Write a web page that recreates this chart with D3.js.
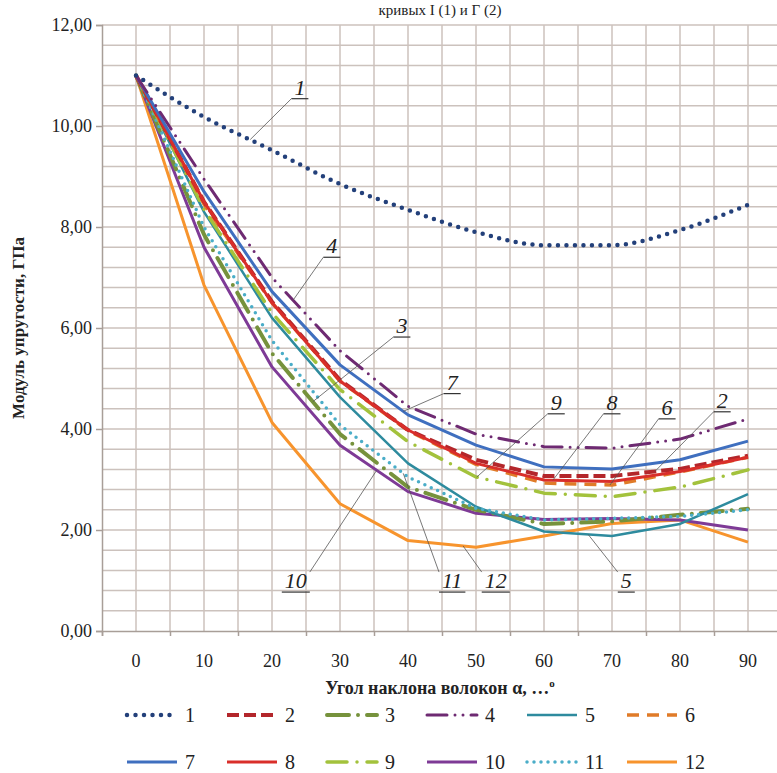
<!DOCTYPE html>
<html><head><meta charset="utf-8">
<script src="https://cdn.jsdelivr.net/npm/d3@7"></script>
<style>body{margin:0;background:#fff}svg{display:block}</style>
</head><body><svg id="c" width="777" height="773"></svg>
<script>
// ---- data ----
const angles = [0,10,20,30,40,50,60,70,80,90];
const yTicks = [0,2,4,6,8,10,12];
const seriesNames = ["1","2","3","4","5","6","7","8","9","10","11","12"];
const s1  = [11.0,10.18,9.52,8.85,8.34,7.90,7.64,7.64,7.94,8.44];
const s2  = [11.0,8.50,6.52,4.97,3.98,3.39,3.07,3.07,3.21,3.47];
const s3  = [11.0,7.85,5.50,3.90,2.85,2.40,2.12,2.17,2.30,2.42];
const s4  = [11.0,8.95,7.00,5.55,4.45,3.90,3.65,3.62,3.80,4.20];
const s5  = [11.0,8.30,6.20,4.63,3.32,2.46,1.97,1.88,2.12,2.71];
const s6  = [11.0,8.45,6.50,4.95,3.97,3.30,2.93,2.89,3.15,3.44];
const s7  = [11.0,8.70,6.72,5.27,4.28,3.68,3.25,3.21,3.39,3.76];
const s8  = [11.0,8.50,6.50,4.95,3.98,3.32,2.99,2.96,3.16,3.44];
const s9  = [11.0,8.35,6.30,4.78,3.75,3.05,2.73,2.66,2.85,3.19];
const s10 = [11.0,7.60,5.23,3.68,2.76,2.33,2.21,2.23,2.20,2.00];
const s11 = [11.0,8.00,5.75,4.08,3.05,2.43,2.20,2.23,2.27,2.40];
const s12 = [11.0,6.85,4.13,2.52,1.79,1.66,1.88,2.13,2.20,1.76];
const allSeries = [s1,s2,s3,s4,s5,s6,s7,s8,s9,s10,s11,s12];

// ---- styles ----
const styles = [
  {c:"#23407A", w:4.5, d:"0 8.5", cap:"round", smooth:true},
  {c:"#B3262B", w:4,   d:"12 5",  cap:"butt"},
  {c:"#76923C", w:4,   d:"22 9 0 9", cap:"round"},
  {c:"#6E2A72", w:3,   d:"20 8 0 8 0 8", cap:"round"},
  {c:"#2E8B9E", w:2.5, d:null, cap:"butt"},
  {c:"#E07B28", w:3.5, d:"12 8", cap:"butt"},
  {c:"#3F6FBF", w:3,   d:null, cap:"butt"},
  {c:"#D92E2A", w:3,   d:null, cap:"butt"},
  {c:"#A3C23C", w:3.5, d:"20 10 0 10", cap:"round"},
  {c:"#7E3A96", w:3,   d:null, cap:"butt"},
  {c:"#4AADC8", w:3.5, d:"0 7", cap:"round"},
  {c:"#F7942D", w:3,   d:null, cap:"butt"}
];
const serif = '"Liberation Serif", "Times New Roman", "DejaVu Serif", serif';

const svg = d3.select("#c");
svg.append("rect").attr("width",777).attr("height",773).attr("fill","#fff");

const x = d3.scaleLinear().domain([-5,95]).range([102,782]);
const y = d3.scaleLinear().domain([0,12]).range([631,25]);

// title (top, partly outside the picture in the reference)
svg.append("text").attr("x",440).attr("y",15).attr("text-anchor","middle")
  .style("font-family",serif).style("font-size","15px").attr("fill","#222").text("кривых I (1) и Г (2)");

// grid
const g = svg.append("g");
g.selectAll("line.h").data(d3.range(1,31).map(i=>i*0.4)).join("line")
  .attr("x1",x(-5)).attr("x2",x(95)).attr("y1",d=>y(d)).attr("y2",d=>y(d))
  .attr("stroke","#CCC2BD").attr("stroke-width",1.5);
g.selectAll("line.v").data(d3.range(0,20).map(i=>i*5)).join("line")
  .attr("x1",d=>x(d)).attr("x2",d=>x(d)).attr("y1",y(0)).attr("y2",y(12))
  .attr("stroke","#CCC2BD").attr("stroke-width",1.5);

// axes
const yAxis = d3.axisLeft(y).tickValues(yTicks).tickSize(6)
  .tickFormat(d=>d3.format(".2f")(d).replace(".",","));
const ya = svg.append("g").attr("transform",`translate(${x(-5)},0)`).call(yAxis);
ya.select(".domain").attr("stroke","#A89E98").attr("stroke-width",1.5);
ya.selectAll(".tick line").attr("stroke","#A89E98").attr("stroke-width",1.5);
ya.selectAll(".tick text").style("font-family",serif).style("font-size","18px").attr("fill","#222").attr("x",-10);

const xAxis = d3.axisBottom(x).tickValues(d3.range(-5,96,10)).tickSize(5).tickFormat("");
const xa = svg.append("g").attr("transform",`translate(0,${y(0)})`).call(xAxis);
xa.select(".domain").attr("stroke","#A89E98").attr("stroke-width",1.5);
xa.selectAll(".tick line").attr("stroke","#A89E98").attr("stroke-width",1.5);
svg.append("g").selectAll("text").data(angles).join("text")
  .attr("x",d=>x(d)).attr("y",667).attr("text-anchor","middle")
  .style("font-family",serif).style("font-size","18px").attr("fill","#222").text(d=>d);

// axis titles
const xt = svg.append("text").attr("x",440).attr("y",694).attr("text-anchor","middle")
  .style("font-family",serif).style("font-size","18px").attr("font-weight","bold").attr("fill","#222");
xt.append("tspan").text("Угол наклона волокон α, …");
xt.append("tspan").style("font-size","11px").attr("dy",-7).text("o");
svg.append("text").attr("transform","translate(24,328) rotate(-90)").attr("text-anchor","middle")
  .style("font-family",serif).style("font-size","17px").attr("font-weight","bold").attr("fill","#222")
  .text("Модуль упругости, ГПа");

// lines
const drawOrder = [11,9,2,4,10,8,5,1,7,6,3,0];
drawOrder.forEach(i=>{
  const st = styles[i];
  const line = d3.line().x((d,j)=>x(angles[j])).y(d=>y(d))
    .curve(st.smooth ? d3.curveMonotoneX : d3.curveLinear);
  const p = svg.append("path").datum(allSeries[i]).attr("d",line)
    .attr("fill","none").attr("stroke",st.c).attr("stroke-width",st.w)
    .attr("stroke-linecap",st.cap).attr("stroke-linejoin","round");
  if(st.d) p.attr("stroke-dasharray",st.d);
});

// annotations: label index, label centre (angle units), baseline (value units), target angle, leader end
const annots = [
  {i:0,  lx:24.1, lv:10.62, ta:16.8, end:"l"},
  {i:3,  lx:28.8, lv:7.48,  ta:23.1, end:"l"},
  {i:2,  lx:39.1, lv:5.90,  ta:26.0, end:"l"},
  {i:6,  lx:46.5, lv:4.78,  ta:39.3, end:"l"},
  {i:8,  lx:61.8, lv:4.38,  ta:50.1, end:"l"},
  {i:7,  lx:70.0, lv:4.38,  ta:61.3, end:"l"},
  {i:5,  lx:78.1, lv:4.28,  ta:69.7, end:"l"},
  {i:1,  lx:86.2, lv:4.42,  ta:76.3, end:"l"},
  {i:9,  lx:23.5, lv:0.85,  ta:35.4, end:"r"},
  {i:10, lx:46.5, lv:0.85,  ta:39.3, end:"l"},
  {i:11, lx:52.9, lv:0.85,  ta:48.1, end:"l"},
  {i:4,  lx:72.1, lv:0.85,  ta:66.5, end:"l"}
];
function valAt(arr,a){
  const k = Math.min(Math.floor(a/10),8); const t=(a-k*10)/10;
  return arr[k]+(arr[k+1]-arr[k])*t;
}
const ag = svg.append("g");
annots.forEach(a=>{
  const cx = x(a.lx), by = y(a.lv);
  const txt = ag.append("text").attr("x",cx).attr("y",by).attr("text-anchor","middle")
    .style("font-family",serif).attr("font-style","italic").style("font-size","22px").attr("fill","#222")
    .text(seriesNames[a.i]);
  const w = txt.node().getComputedTextLength();
  const x1 = cx - w/2 - 3, x2 = cx + w/2 + 3, uy = by + 4;
  ag.append("line").attr("x1",x1).attr("x2",x2).attr("y1",uy).attr("y2",uy)
    .attr("stroke","#333").attr("stroke-width",1.2);
  const sx = a.end==="l" ? x1 : x2;
  const sy = a.lv > 2 ? uy : by - 16;
  ag.append("line").attr("x1",sx).attr("y1",sy)
    .attr("x2",x(a.ta)).attr("y2",y(valAt(allSeries[a.i],a.ta)))
    .attr("stroke","#555").attr("stroke-width",0.8);
});

// legend
const lg = svg.append("g");
seriesNames.forEach((n,i)=>{
  const row = Math.floor(i/6), col = i%6;
  const x0 = 127 + col*100, yy = 715 + row*47;
  const st = styles[i];
  const l = lg.append("line").attr("x1",x0).attr("x2",x0+50).attr("y1",yy).attr("y2",yy)
    .attr("stroke",st.c).attr("stroke-width",st.w).attr("stroke-linecap",st.cap);
  if(st.d) l.attr("stroke-dasharray",st.d);
  lg.append("text").attr("x",x0+58).attr("y",yy+7).style("font-family",serif)
    .style("font-size","20px").attr("fill","#222").text(n);
});
</script></body></html>
